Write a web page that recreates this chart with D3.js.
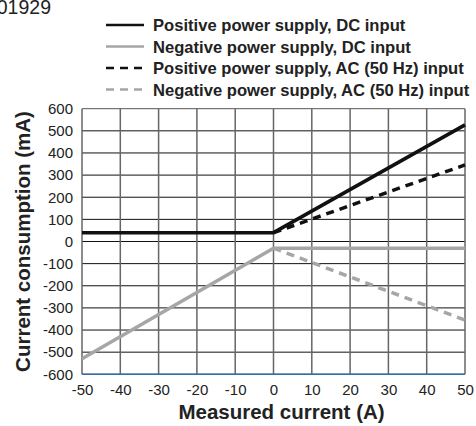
<!DOCTYPE html>
<html><head><meta charset="utf-8">
<script src="https://cdn.jsdelivr.net/npm/d3@7"></script>
<style>body{margin:0;background:#fff}svg{display:block;font-family:"Liberation Sans",Arial,sans-serif}</style>
</head><body><svg id="c" width="476" height="426"></svg>
<script>
const xTicks = [-50,-40,-30,-20,-10,0,10,20,30,40,50];
const yTicks = [600,500,400,300,200,100,0,-100,-200,-300,-400,-500,-600];
const seriesNames = ["Positive power supply, DC input","Negative power supply, DC input","Positive power supply, AC (50 Hz) input","Negative power supply, AC (50 Hz) input"];
const posDC = [[-50,40],[0,40],[50,527]];
const negDC = [[-50,-530],[0,-30],[50,-30]];
const posAC = [[0,40],[50,346]];
const negAC = [[0,-30],[50,-355]];
const seriesData = [posDC, negDC, posAC, negAC];
const seriesColor = ["#111","#a6a6a6","#111","#a6a6a6"];
const seriesDash = [null,null,"8,6","8,6"];

const svg = d3.select("#c");
const x = d3.scaleLinear().domain([-50,50]).range([82,465]);
const y = d3.scaleLinear().domain([-600,600]).range([374.3,108.7]);

svg.append("text").attr("x",51).attr("y",14).attr("text-anchor","end").attr("font-size",19.5).attr("fill","#222").text("01929");

const g = svg.append("g");
g.selectAll(".h").data(yTicks).join("line")
  .attr("x1",x(-50)).attr("x2",x(50)).attr("y1",d=>y(d)).attr("y2",d=>y(d))
  .attr("stroke",d=>d===600?"#555":"#111").attr("stroke-width",1);
g.selectAll(".v").data(xTicks).join("line")
  .attr("x1",d=>x(d)).attr("x2",d=>x(d)).attr("y1",y(600)).attr("y2",y(-600))
  .attr("stroke","#666").attr("stroke-width",1.5);
g.append("line").attr("x1",x(-50)).attr("x2",x(50)).attr("y1",y(-600)).attr("y2",y(-600))
  .attr("stroke","#2f6fa8").attr("stroke-width",1.5);

const fmt = d => String(d);
const ya = svg.append("g").attr("transform",`translate(${x(-50)},0)`)
  .call(d3.axisLeft(y).tickValues(yTicks).tickFormat(fmt).tickSize(0).tickPadding(9));
ya.select(".domain").remove();
ya.selectAll("text").attr("font-size",15).attr("font-family","Liberation Sans, Arial, sans-serif").attr("fill","#222");
const xa = svg.append("g").attr("transform",`translate(0,${y(-600)})`)
  .call(d3.axisBottom(x).tickValues(xTicks).tickFormat(fmt).tickSize(0).tickPadding(10));
xa.select(".domain").remove();
xa.selectAll("text").attr("font-size",15).attr("font-family","Liberation Sans, Arial, sans-serif").attr("fill","#222");

svg.append("text").attr("transform",`translate(30,${(y(600)+y(-600))/2}) rotate(-90)`)
  .attr("text-anchor","middle").attr("font-size",20.5).attr("font-weight","bold").attr("fill","#222")
  .text("Current consumption (mA)");
svg.append("text").attr("x",(x(-50)+x(50))/2+8).attr("y",419).attr("text-anchor","middle")
  .attr("font-size",20.5).attr("font-weight","bold").attr("fill","#222").text("Measured current (A)");

const line = d3.line().x(d=>x(d[0])).y(d=>y(d[1]));
[3,1,2,0].forEach(i=>{
  svg.append("path").attr("d",line(seriesData[i])).attr("fill","none")
    .attr("stroke",seriesColor[i]).attr("stroke-width",3.5)
    .attr("stroke-dasharray",seriesDash[i]);
});

const legY = [25,46.5,68,89.5];
seriesNames.forEach((n,i)=>{
  svg.append("line").attr("x1",106).attr("x2",144).attr("y1",legY[i]).attr("y2",legY[i])
    .attr("stroke",seriesColor[i]).attr("stroke-width",2.5).attr("stroke-dasharray",seriesDash[i]);
  svg.append("text").attr("x",153).attr("y",legY[i]+6).attr("font-size",16.6).attr("font-weight","bold")
    .attr("fill","#222").text(n);
});
</script></body></html>
